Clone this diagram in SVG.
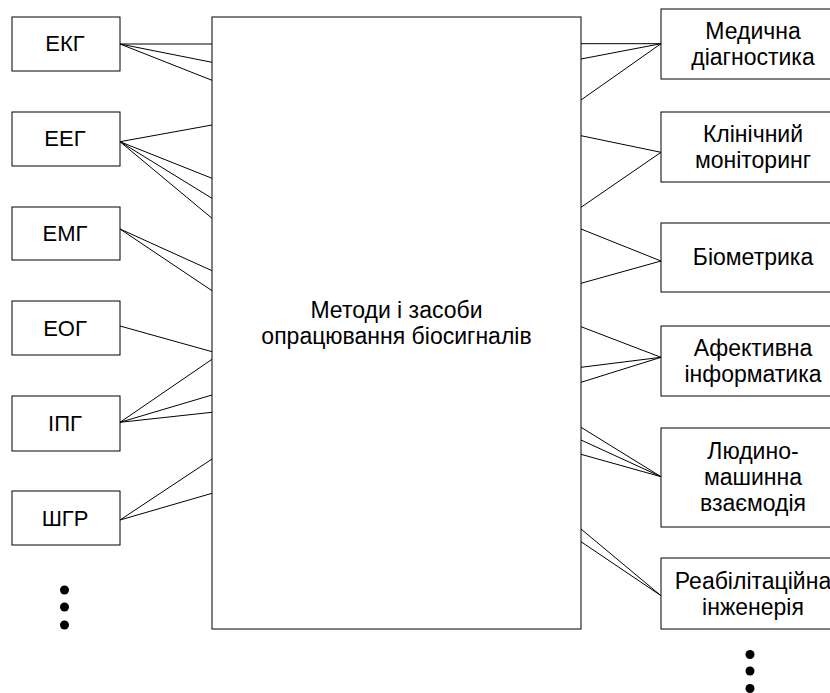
<svg xmlns="http://www.w3.org/2000/svg" width="830" height="693" viewBox="0 0 830 693">
<style>
rect{fill:#fff;stroke:#000;stroke-width:1}
text{font-family:"Liberation Sans",Arial,sans-serif;font-size:23px;fill:#000;text-anchor:middle}
.l text{font-size:22px}
#connectors line{stroke:#000;stroke-width:1}
.dot{fill:#000}
</style>
<rect width="830" height="693" style="stroke:none"/>
<g id="connectors">
<line x1="120" y1="44" x2="212" y2="44"/>
<line x1="120" y1="44" x2="212" y2="62.3"/>
<line x1="120" y1="44" x2="212" y2="80.3"/>
<line x1="120" y1="141.7" x2="212" y2="125"/>
<line x1="120" y1="141.7" x2="212" y2="178.3"/>
<line x1="120" y1="141.7" x2="212" y2="198.3"/>
<line x1="120" y1="141.7" x2="212" y2="218.3"/>
<line x1="120" y1="229" x2="212" y2="270.7"/>
<line x1="120" y1="229" x2="212" y2="290.7"/>
<line x1="120" y1="326" x2="212" y2="351.7"/>
<line x1="120" y1="422.3" x2="212" y2="359.3"/>
<line x1="120" y1="422.3" x2="212" y2="395"/>
<line x1="120" y1="422.3" x2="212" y2="412.3"/>
<line x1="120" y1="520" x2="212" y2="459"/>
<line x1="120" y1="520" x2="212" y2="493.3"/>
<line x1="581" y1="43.7" x2="661" y2="43.7"/>
<line x1="581" y1="59" x2="661" y2="43.7"/>
<line x1="581" y1="100" x2="661" y2="43.7"/>
<line x1="581" y1="135.7" x2="661" y2="152.3"/>
<line x1="581" y1="207.3" x2="661" y2="152.3"/>
<line x1="581" y1="229" x2="661" y2="261"/>
<line x1="581" y1="283.3" x2="661" y2="261"/>
<line x1="581" y1="326.7" x2="661" y2="357.3"/>
<line x1="581" y1="367.3" x2="661" y2="357.3"/>
<line x1="581" y1="382.3" x2="661" y2="357.3"/>
<line x1="581" y1="427.3" x2="661" y2="476.7"/>
<line x1="581" y1="440" x2="661" y2="476.7"/>
<line x1="581" y1="454.3" x2="661" y2="476.7"/>
<line x1="581" y1="529" x2="661" y2="595.7"/>
<line x1="581" y1="541.7" x2="661" y2="595.7"/>
</g>
<g id="main">
<rect x="212" y="17" width="369" height="612"/>
<text x="396.5" y="317.5">Методи і засоби</text>
<text x="396.5" y="343.5">опрацювання біосигналів</text>
</g>
<g id="ekg" class="l"><rect x="12" y="17" width="108" height="54"/><text x="65" y="51">ЕКГ</text></g>
<g id="eeg" class="l"><rect x="12" y="112" width="108" height="54"/><text x="65" y="146">ЕЕГ</text></g>
<g id="emg" class="l"><rect x="12" y="207" width="108" height="53"/><text x="65" y="241">ЕМГ</text></g>
<g id="eog" class="l"><rect x="12" y="301" width="108" height="54"/><text x="65" y="336">ЕОГ</text></g>
<g id="ipg" class="l"><rect x="12" y="396" width="108" height="55"/><text x="65" y="431">ІПГ</text></g>
<g id="shgr" class="l"><rect x="12" y="491" width="108" height="54"/><text x="65" y="526">ШГР</text></g>
<g id="dots-left"><circle class="dot" cx="64.5" cy="590" r="4.5"/><circle class="dot" cx="64.5" cy="607" r="4.5"/><circle class="dot" cx="64.5" cy="625" r="4.5"/></g>
<g id="med"><rect x="661" y="9" width="184" height="70"/><text x="753" y="38.5">Медична</text><text x="753" y="64.5">діагностика</text></g>
<g id="clin"><rect x="661" y="112" width="184" height="70"/><text x="753" y="141.5">Клінічний</text><text x="753" y="167.5">моніторинг</text></g>
<g id="bio"><rect x="661" y="223" width="184" height="69"/><text x="753" y="265">Біометрика</text></g>
<g id="aff"><rect x="661" y="326" width="184" height="70"/><text x="753" y="355.5">Афективна</text><text x="753" y="381.5">інформатика</text></g>
<g id="hmi"><rect x="661" y="428" width="184" height="99"/><text x="753" y="459">Людино-</text><text x="753" y="485">машинна</text><text x="753" y="511">взаємодія</text></g>
<g id="rehab"><rect x="661" y="558" width="184" height="71"/><text x="753" y="588.5">Реабілітаційна</text><text x="753" y="614.5">інженерія</text></g>
<g id="dots-right"><circle class="dot" cx="750" cy="654.5" r="4.5"/><circle class="dot" cx="750" cy="671" r="4.5"/><circle class="dot" cx="750" cy="688.5" r="4.5"/></g>
</svg>
